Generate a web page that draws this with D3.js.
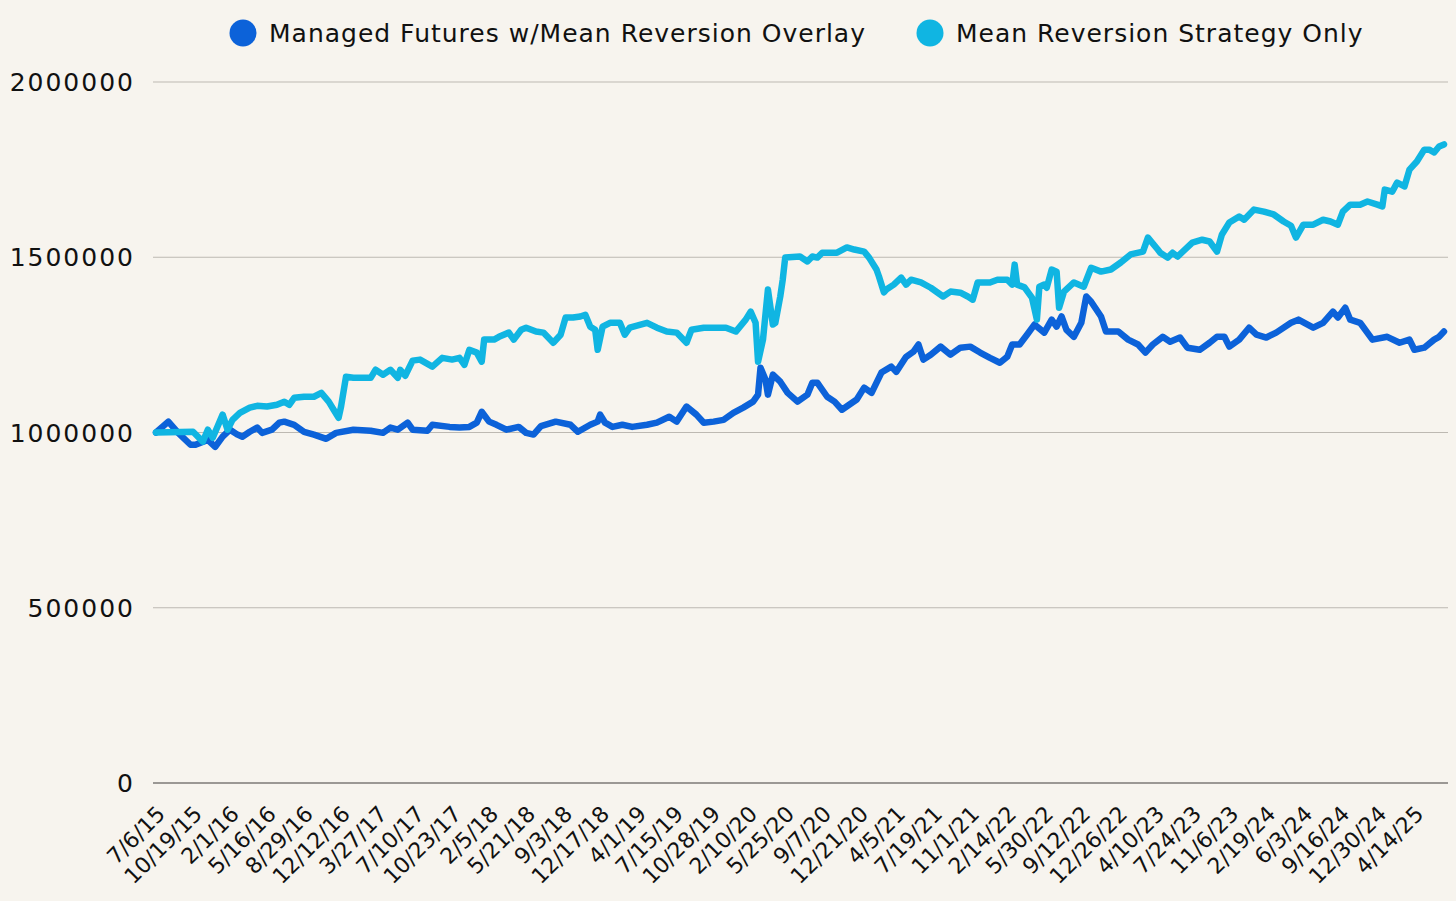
<!DOCTYPE html>
<html>
<head>
<meta charset="utf-8">
<script src="https://cdn.jsdelivr.net/npm/d3@7"></script>
<style>
  body { margin: 0; background: #f7f4ee; }
</style>
</head>
<body>
<div id="chart"></div>
<script>
// series names / colours
const seriesNames = ["Managed Futures w/Mean Reversion Overlay", "Mean Reversion Strategy Only"];
const seriesColors = ["#0c62d9", "#10b5e2"];

// x axis: one label every 15 weekly points
const tickLabels = ["7/6/15", "10/19/15", "2/1/16", "5/16/16", "8/29/16", "12/12/16", "3/27/17",
  "7/10/17", "10/23/17", "2/5/18", "5/21/18", "9/3/18", "12/17/18", "4/1/19", "7/15/19",
  "10/28/19", "2/10/20", "5/25/20", "9/7/20", "12/21/20", "4/5/21", "7/19/21", "11/1/21",
  "2/14/22", "5/30/22", "9/12/22", "12/26/22", "4/10/23", "7/24/23", "11/6/23", "2/19/24",
  "6/3/24", "9/16/24", "12/30/24", "4/14/25"];
const tickEvery = 15;
const lastWeek = 522;
const yTicks = [0, 500000, 1000000, 1500000, 2000000];

// Managed Futures w/Mean Reversion Overlay (week index, value)
const mfWeeks = [0, 5, 9, 14, 16, 21, 24, 27, 30, 33, 35, 38, 41, 43, 47, 50, 52, 56, 60, 64, 69, 73, 80,
  87, 92, 95, 98, 102, 104, 110, 112, 119, 123, 127, 130, 132, 135, 138, 142, 147, 150, 153, 156, 162,
  168, 171, 176, 179, 180, 182, 185, 189, 193, 199, 203, 208, 211, 215, 219, 222, 226, 230, 234, 238,
  242, 244, 245, 247, 248, 250, 253, 256, 260, 264, 266, 268, 272, 275, 278, 284, 287, 290, 294, 298,
  300, 304, 307, 309, 311, 314, 318, 322, 326, 330, 334, 338, 342, 345, 347, 350, 353, 356, 360, 363,
  365, 367, 369, 372, 375, 377, 379, 383, 385, 390, 394, 398, 401, 404, 408, 411, 415, 418, 423, 427,
  430, 433, 435, 439, 443, 446, 450, 454, 460, 463, 469, 473, 477, 479, 482, 484, 488, 493, 499, 504,
  508, 510, 514, 518, 520, 522];
const mfValues = [1000000, 1031000, 999000, 965000, 965000, 979000, 959000, 988000, 1008000, 994000,
  988000, 1002000, 1014000, 999000, 1008000, 1028000, 1031000, 1022000, 1002000, 994000, 982000, 999000,
  1008000, 1005000, 999000, 1014000, 1008000, 1028000, 1008000, 1005000, 1022000, 1016000, 1014000,
  1016000, 1028000, 1059000, 1031000, 1022000, 1008000, 1016000, 999000, 994000, 1018000, 1031000,
  1022000, 1002000, 1022000, 1031000, 1051000, 1028000, 1016000, 1022000, 1016000, 1022000, 1028000,
  1045000, 1031000, 1074000, 1051000, 1028000, 1031000, 1036000, 1056000, 1071000, 1088000, 1108000,
  1185000, 1151000, 1108000, 1165000, 1145000, 1113000, 1088000, 1108000, 1142000, 1142000, 1102000,
  1088000, 1065000, 1094000, 1128000, 1113000, 1171000, 1188000, 1173000, 1216000, 1231000, 1251000,
  1208000, 1222000, 1245000, 1222000, 1242000, 1245000, 1228000, 1213000, 1199000, 1216000, 1251000,
  1251000, 1279000, 1308000, 1285000, 1322000, 1302000, 1331000, 1293000, 1273000, 1313000, 1388000,
  1373000, 1331000, 1288000, 1288000, 1265000, 1251000, 1228000, 1251000, 1273000, 1259000, 1271000,
  1242000, 1236000, 1256000, 1273000, 1273000, 1245000, 1265000, 1299000, 1279000, 1271000, 1285000,
  1313000, 1322000, 1299000, 1313000, 1345000, 1328000, 1356000, 1322000, 1313000, 1265000, 1273000,
  1256000, 1265000, 1236000, 1242000, 1265000, 1273000, 1288000];

// Mean Reversion Strategy Only (week index, value)
const mrWeeks = [0, 15, 19, 21, 23, 27, 29, 31, 34, 38, 41, 45, 49, 52, 54, 56, 60, 64, 67, 70, 72, 74,
  75, 77, 80, 87, 89, 92, 95, 98, 99, 101, 104, 107, 112, 116, 120, 123, 125, 127, 130, 132, 133, 137,
  139, 143, 145, 148, 150, 154, 157, 161, 164, 166, 169, 172, 174, 176, 178, 179, 181, 184, 188, 190,
  192, 199, 203, 207, 211, 215, 217, 222, 231, 235, 239, 241, 243, 244, 246, 248, 250, 251, 253, 254,
  255, 261, 264, 266, 268, 270, 276, 280, 283, 287, 289, 292, 293, 295, 296, 299, 302, 304, 306, 310,
  314, 319, 322, 326, 329, 331, 333, 338, 341, 345, 347, 348, 349, 352, 355, 357, 358, 360, 361, 363,
  365, 366, 368, 372, 376, 379, 383, 387, 391, 395, 400, 402, 406, 407, 410, 412, 414, 420, 424, 427,
  430, 432, 435, 439, 441, 445, 449, 453, 457, 460, 462, 465, 469, 473, 476, 479, 481, 484, 488, 491,
  495, 497, 498, 501, 503, 506, 508, 511, 514, 516, 518, 520, 522];
const mrValues = [1000000, 1002000, 974000, 1008000, 985000, 1051000, 1008000, 1036000, 1056000,
  1071000, 1076000, 1074000, 1079000, 1088000, 1079000, 1099000, 1102000, 1102000, 1113000, 1088000,
  1065000, 1042000, 1074000, 1159000, 1156000, 1156000, 1179000, 1165000, 1179000, 1156000, 1179000,
  1162000, 1205000, 1208000, 1188000, 1213000, 1208000, 1213000, 1193000, 1236000, 1228000, 1202000,
  1265000, 1265000, 1273000, 1285000, 1265000, 1293000, 1299000, 1288000, 1285000, 1256000, 1279000,
  1328000, 1328000, 1331000, 1336000, 1302000, 1293000, 1236000, 1302000, 1313000, 1313000, 1279000,
  1299000, 1313000, 1299000, 1288000, 1285000, 1256000, 1293000, 1299000, 1299000, 1288000, 1322000,
  1345000, 1313000, 1202000, 1265000, 1408000, 1308000, 1313000, 1388000, 1436000, 1499000, 1502000,
  1488000, 1502000, 1499000, 1513000, 1513000, 1528000, 1522000, 1516000, 1499000, 1465000, 1445000,
  1400000, 1408000, 1422000, 1442000, 1422000, 1436000, 1428000, 1413000, 1388000, 1402000, 1399000,
  1388000, 1379000, 1428000, 1428000, 1436000, 1436000, 1422000, 1479000, 1422000, 1414000, 1385000,
  1322000, 1416000, 1422000, 1413000, 1465000, 1459000, 1356000, 1402000, 1428000, 1416000, 1470000,
  1459000, 1465000, 1485000, 1508000, 1516000, 1556000, 1522000, 1513000, 1499000, 1513000, 1502000,
  1542000, 1550000, 1545000, 1516000, 1565000, 1599000, 1616000, 1607000, 1636000, 1630000, 1622000,
  1602000, 1590000, 1556000, 1593000, 1593000, 1607000, 1602000, 1593000, 1630000, 1650000, 1650000,
  1659000, 1650000, 1645000, 1693000, 1687000, 1713000, 1702000, 1750000, 1773000, 1807000, 1807000,
  1799000, 1816000, 1822000];

const width = 1456;
const height = 901;
const plotLeft = 153;
const plotRight = 1448;
const font = "'DejaVu Sans', sans-serif";

const svg = d3.create("svg").attr("width", width).attr("height", height)
  .style("background", "#f7f4ee").style("font-family", font);

const x = d3.scaleLinear().domain([0, lastWeek]).range([156, 1444]);
const y = d3.scaleLinear().domain([0, 2000000]).range([783, 82]);

// gridlines + y labels
svg.append("g")
  .selectAll("line")
  .data(yTicks)
  .join("line")
  .attr("x1", plotLeft).attr("x2", plotRight)
  .attr("y1", d => y(d)).attr("y2", d => y(d))
  .attr("stroke", d => d === 0 ? "#7d7a76" : "#bdb9b2")
  .attr("stroke-width", d => d === 0 ? 1.5 : 1);

svg.append("g")
  .selectAll("text")
  .data(yTicks)
  .join("text")
  .attr("x", 135).attr("y", d => y(d))
  .attr("dy", "0.36em")
  .attr("text-anchor", "end")
  .attr("font-size", 25)
  .attr("letter-spacing", 2)
  .attr("fill", "#111")
  .text(d => d);

// x labels, rotated
svg.append("g")
  .selectAll("text")
  .data(tickLabels)
  .join("text")
  .attr("transform", (d, i) => `translate(${x(i * tickEvery) + 5},${810}) rotate(-45)`)
  .attr("dy", "0.35em")
  .attr("text-anchor", "end")
  .attr("font-size", 22)
  .attr("fill", "#111")
  .text(d => d);

// lines
const line = d3.line().x(d => x(d[0])).y(d => y(d[1]));
const series = [
  d3.zip(mfWeeks, mfValues),
  d3.zip(mrWeeks, mrValues)
];
series.forEach((s, i) => {
  svg.append("path")
    .datum(s)
    .attr("fill", "none")
    .attr("stroke", seriesColors[i])
    .attr("stroke-width", 6.5)
    .attr("stroke-linejoin", "round")
    .attr("stroke-linecap", "round")
    .attr("d", line);
});

// legend
const legendX = [243, 930];
const legend = svg.append("g")
  .selectAll("g")
  .data(seriesNames)
  .join("g")
  .attr("transform", (d, i) => `translate(${legendX[i]},33)`);
legend.append("circle").attr("r", 13.5).attr("fill", (d, i) => seriesColors[i]);
legend.append("text")
  .attr("x", 26).attr("dy", "0.35em")
  .attr("font-size", 25)
  .attr("letter-spacing", 1)
  .attr("fill", "#111")
  .text(d => d);

document.getElementById("chart").appendChild(svg.node());
</script>
</body>
</html>
